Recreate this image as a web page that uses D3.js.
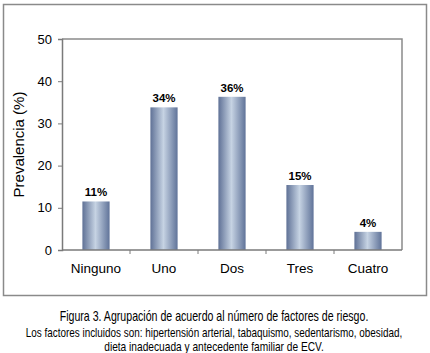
<!DOCTYPE html>
<html>
<head>
<script src="https://d3js.org/d3.v7.min.js"></script>
<style>
  body { margin: 0; background: #fff; }
  text { font-family: Arial, "Liberation Sans", sans-serif; fill: #000; }
</style>
</head>
<body>
<script>
  const categories = ["Ninguno", "Uno", "Dos", "Tres", "Cuatro"]
  const values = [11.5, 33.8, 36.3, 15.4, 4.3]
  const labels = ["11%", "34%", "36%", "15%", "4%"]
  const yTicks = [0, 10, 20, 30, 40, 50]
  const captions = [
    "Figura 3. Agrupación de acuerdo al número de factores de riesgo.",
    "Los factores incluidos son: hipertensión arterial, tabaquismo, sedentarismo, obesidad,",
    "dieta inadecuada  y antecedente familiar de ECV."
  ]

  const W = 430, H = 353
  const m = { left: 62, right: 402, top: 39, bottom: 250 }

  const svg = d3.select("body").append("svg").attr("width", W).attr("height", H)

  const grad = svg.append("defs").append("linearGradient").attr("id", "barGrad")
  grad.append("stop").attr("offset", "0%").attr("stop-color", "#5f7196")
  grad.append("stop").attr("offset", "48%").attr("stop-color", "#c6d3e3")
  grad.append("stop").attr("offset", "100%").attr("stop-color", "#607399")

  // outer frame
  svg.append("rect").attr("x", 3.5).attr("y", 4.5).attr("width", 423).attr("height", 291)
    .attr("fill", "none").attr("stroke", "#8a8a8a").attr("stroke-width", 1.5)

  const x = d3.scaleBand().domain(categories).range([m.left, m.right]).paddingInner(0.6).paddingOuter(0.3)
  const y = d3.scaleLinear().domain([0, 50]).range([m.bottom, m.top])

  // plot area border (top, right)
  svg.append("path")
    .attr("d", `M${m.left},${m.top}H${m.right}V${m.bottom}`)
    .attr("fill", "none").attr("stroke", "#8a8a8a").attr("stroke-width", 1.5)

  svg.selectAll(".bar").data(values).enter().append("rect")
    .attr("class", "bar")
    .attr("x", (d, i) => x(categories[i]))
    .attr("width", x.bandwidth())
    .attr("y", d => y(d))
    .attr("height", d => y(0) - y(d))
    .attr("fill", "url(#barGrad)")

  svg.selectAll(".lbl").data(values).enter().append("text")
    .attr("class", "lbl")
    .attr("x", (d, i) => x(categories[i]) + x.bandwidth() / 2)
    .attr("y", d => y(d) - 5)
    .attr("text-anchor", "middle")
    .attr("font-size", 11.5).attr("font-weight", "bold")
    .text((d, i) => labels[i])

  // y axis
  const yAxis = svg.append("g").attr("transform", `translate(${m.left},0)`)
    .call(d3.axisLeft(y).tickValues(yTicks).tickSize(4).tickPadding(6))
  yAxis.select(".domain").attr("stroke", "#7a7a7a").attr("stroke-width", 1.5)
  yAxis.selectAll(".tick line").attr("stroke", "#7a7a7a")
  yAxis.selectAll(".tick text").attr("font-size", 13).attr("font-family", "Arial, 'Liberation Sans', sans-serif")

  // x axis: ticks between categories
  const bounds = d3.range(categories.length + 1).map(i => m.left + i * (m.right - m.left) / categories.length)
  svg.append("line").attr("x1", m.left).attr("x2", m.right).attr("y1", m.bottom).attr("y2", m.bottom)
    .attr("stroke", "#7a7a7a").attr("stroke-width", 1.5)
  svg.selectAll(".xt").data(bounds.slice(1, -1)).enter().append("line")
    .attr("x1", d => d).attr("x2", d => d).attr("y1", m.bottom).attr("y2", m.bottom + 4)
    .attr("stroke", "#7a7a7a")
  svg.selectAll(".xl").data(categories).enter().append("text")
    .attr("x", d => x(d) + x.bandwidth() / 2)
    .attr("y", 273)
    .attr("text-anchor", "middle").attr("font-size", 13.5)
    .text(d => d)

  svg.append("text")
    .attr("transform", `translate(24,${(m.top + m.bottom) / 2}) rotate(-90)`)
    .attr("text-anchor", "middle").attr("font-size", 15)
    .text("Prevalencia (%)")

  // captions: squeeze horizontally to the narrow width of the original
  const capY = [321, 337, 351]
  const capW = [309, 377, 220]
  captions.forEach((c, i) => {
    const g = svg.append("g")
    const t = g.append("text")
      .attr("x", 0).attr("y", 0)
      .attr("text-anchor", "middle")
      .attr("font-size", i === 0 ? 14 : 13)
      .text(c)
    const len = t.node().getComputedTextLength()
    g.attr("transform", `translate(214,${capY[i]}) scale(${capW[i] / len},1)`)
  })
</script>
</body>
</html>
